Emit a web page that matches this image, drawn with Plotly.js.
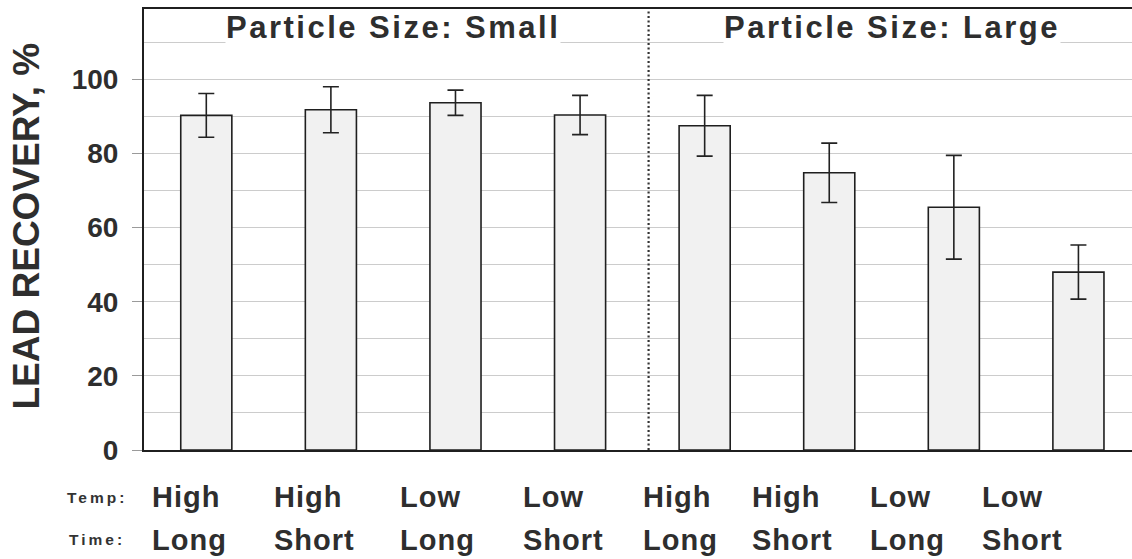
<!DOCTYPE html>
<html>
<head>
<meta charset="utf-8">
<script src="https://cdn.plot.ly/plotly-3.0.1.min.js"></script>
<style>
  html, body { margin: 0; padding: 0; background: #ffffff; }
  #chart { width: 1132px; height: 559px; }
</style>
</head>
<body>
<div id="chart"></div>
<script>
// Lead recovery by particle size, digestion temperature and digestion time
const sizes = ['Small', 'Small', 'Small', 'Small', 'Large', 'Large', 'Large', 'Large'];
const temps = ['High', 'High', 'Low', 'Low', 'High', 'High', 'Low', 'Low'];
const times = ['Long', 'Short', 'Long', 'Short', 'Long', 'Short', 'Long', 'Short'];
const recovery = [90.3, 91.8, 93.7, 90.4, 87.5, 74.8, 65.5, 48.0];
const recoveryErr = [5.9, 6.2, 3.4, 5.3, 8.2, 8.0, 14.0, 7.3];
const groupNames = ['Small', 'Large'];
const yTicks = [0, 20, 40, 60, 80, 100];

// how far (px) each condition label starts to the left of its bar centre
const labelIndent = [56, 59, 57, 59, 64, 79, 86, 98];

const ink = '#2e2e2e';
const xs = temps.map((_, i) => i);

const bars = {
  type: 'bar',
  x: xs,
  y: recovery,
  width: 0.41,
  marker: { color: '#f1f1f1', line: { color: '#1f1f1f', width: 1.6 } },
  error_y: {
    type: 'data', array: recoveryErr, visible: true,
    color: '#222222', thickness: 1.6, width: 8
  },
  hoverinfo: 'y'
};

const spaced = (t, px) => '<span style="letter-spacing:' + px + 'px">' + t + '</span>';
const boldFont = (size, color) => ({ family: 'Liberation Sans, Arial, sans-serif', size: size, weight: 'bold', color: color || ink });

const annotations = [];

// condition labels under each bar
xs.forEach(i => {
  [[temps[i], -0.1066], [times[i], -0.204]].forEach(([t, y]) => {
    annotations.push({
      x: i, xref: 'x', xshift: -labelIndent[i], xanchor: 'left',
      y: y, yref: 'paper', yanchor: 'middle',
      text: spaced(t, 1), showarrow: false, font: boldFont(29)
    });
  });
});

// row captions
[['Temp:', -0.1066], ['Time:', -0.204]].forEach(([t, y]) => {
  annotations.push({
    x: -0.0476, xref: 'paper', y: y, yref: 'paper', xanchor: 'center', yanchor: 'middle',
    text: spaced(t, 3), showarrow: false, font: boldFont(15.5, '#333333')
  });
});

// group headers, centred over each particle-size group
groupNames.forEach(g => {
  const idx = xs.filter(i => sizes[i] === g);
  const cx = idx.reduce((a, b) => a + b, 0) / idx.length;
  annotations.push({
    x: cx, xref: 'x', y: 0.958, yref: 'paper', xanchor: 'center', yanchor: 'middle',
    text: spaced('Particle Size: ' + g, 2.5), showarrow: false,
    bgcolor: '#ffffff', borderpad: 0, font: boldFont(31)
  });
});

// y axis title
annotations.push({
  x: -0.1189, xref: 'paper', y: 0.508, yref: 'paper', xanchor: 'center', yanchor: 'middle',
  text: 'LEAD RECOVERY, %', textangle: -90, showarrow: false, font: boldFont(37)
});

const layout = {
  width: 1132, height: 559,
  margin: { l: 144, r: 0, t: 9, b: 109 },
  paper_bgcolor: '#ffffff', plot_bgcolor: '#ffffff',
  showlegend: false,
  xaxis: {
    range: [-0.5, 7.43], showgrid: false, zeroline: false,
    showticklabels: false, ticks: '',
    showline: true, linecolor: '#1f1f1f', linewidth: 2, mirror: true
  },
  yaxis: {
    range: [0, 119], tickvals: yTicks, ticktext: yTicks.map(String),
    ticks: 'outside', ticklen: 10, tickwidth: 1, tickcolor: '#9a9a9a',
    ticklabelstandoff: 8,
    showgrid: true, gridcolor: '#cccccc', gridwidth: 1,
    minor: { dtick: 10, tick0: 0, showgrid: true, gridcolor: '#cccccc', gridwidth: 1, ticks: '' },
    zeroline: false,
    showline: true, linecolor: '#1f1f1f', linewidth: 2,
    tickfont: boldFont(28)
  },
  shapes: [{
    type: 'line', xref: 'x', yref: 'paper', x0: 3.55, x1: 3.55, y0: 0, y1: 1,
    line: { color: '#333333', width: 2.2, dash: '2px,2.5px' }
  }],
  annotations: annotations
};

Plotly.newPlot('chart', [bars], layout, { displayModeBar: false, staticPlot: true });
</script>
</body>
</html>
